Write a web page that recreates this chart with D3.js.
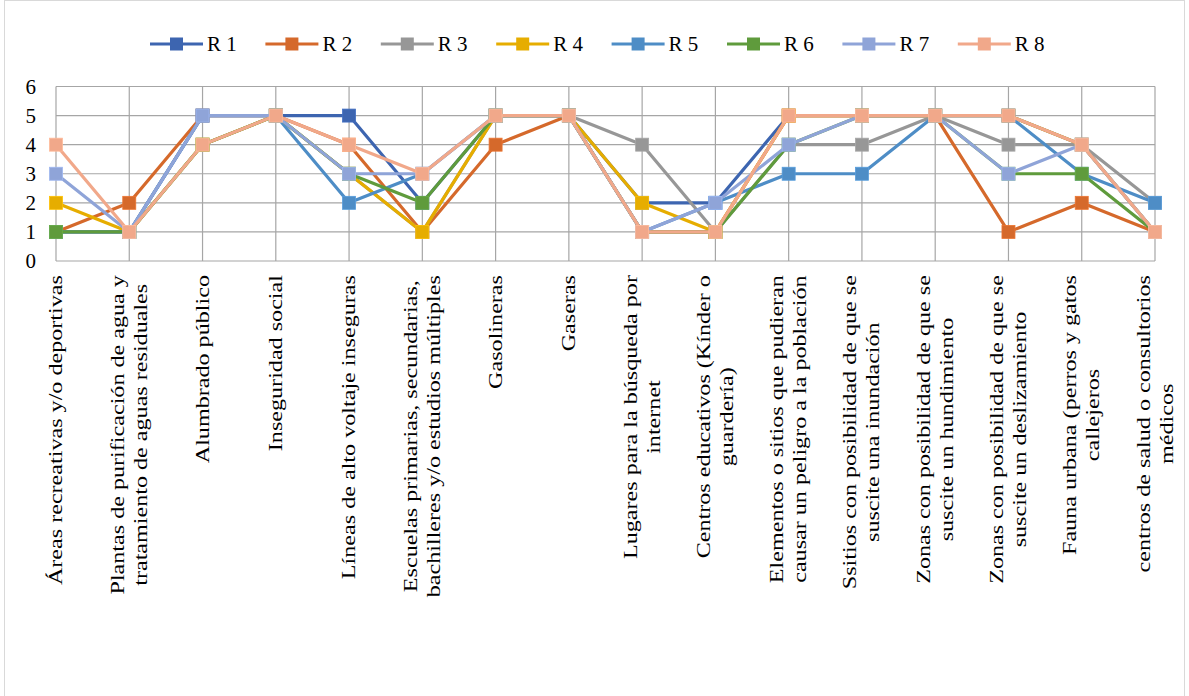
<!DOCTYPE html>
<html>
<head>
<meta charset="utf-8">
<script src="https://cdn.jsdelivr.net/npm/d3@7"></script>
<style>
  body { margin: 0; background: #fff; }
</style>
</head>
<body>
<div id="viz"></div>
<script>
// categories (line breaks as in the original labels)
const categories = [
  "Áreas recreativas y/o deportivas",
  "Plantas de purificación de agua y\ntratamiento de aguas residuales",
  "Alumbrado público",
  "Inseguridad social",
  "Líneas de alto voltaje inseguras",
  "Escuelas primarias, secundarias,\nbachilleres y/o estudios múltiples",
  "Gasolineras",
  "Gaseras",
  "Lugares para la búsqueda por\ninternet",
  "Centros educativos (Kínder o\nguardería)",
  "Elementos o sitios que pudieran\ncausar un peligro a la población",
  "Ssitios con posibilidad de que se\nsuscite una inundación",
  "Zonas con posibilidad de que se\nsuscite un hundimiento",
  "Zonas con posibilidad de que se\nsuscite un deslizamiento",
  "Fauna urbana (perros y gatos\ncallejeros",
  "centros de salud o consultorios\nmédicos"
];

const seriesNames = ["R 1", "R 2", "R 3", "R 4", "R 5", "R 6", "R 7", "R 8"];
const seriesColors = ["#3D65B0", "#D5692B", "#979797", "#E6AD00", "#4E8DC6", "#5F9B3C", "#8FA4D8", "#F1A88A"];

const r1 = [1, 1, 5, 5, 5, 2, 5, 5, 2, 2, 5, 5, 5, 5, 4, 1];
const r2 = [1, 2, 5, 5, 4, 1, 4, 5, 1, 1, 5, 5, 5, 1, 2, 1];
const r3 = [1, 1, 4, 5, 3, 1, 5, 5, 4, 1, 4, 4, 5, 4, 4, 2];
const r4 = [2, 1, 4, 5, 3, 1, 5, 5, 2, 1, 5, 5, 5, 5, 4, 1];
const r5 = [1, 1, 5, 5, 2, 3, 5, 5, 1, 2, 3, 3, 5, 5, 3, 2];
const r6 = [1, 1, 4, 5, 3, 2, 5, 5, 1, 1, 4, 5, 5, 3, 3, 1];
const r7 = [3, 1, 5, 5, 3, 3, 5, 5, 1, 2, 4, 5, 5, 3, 4, 1];
const r8 = [4, 1, 4, 5, 4, 3, 5, 5, 1, 1, 5, 5, 5, 5, 4, 1];

const yTicks = [0, 1, 2, 3, 4, 5, 6];

const allSeries = [r1, r2, r3, r4, r5, r6, r7, r8].map((vals, i) => ({
  name: seriesNames[i], color: seriesColors[i], values: vals
}));

const FONT = "'Liberation Serif'";
const width = 1189, height = 696;
const margin = {top: 86.5, right: 34, bottom: 435, left: 56};

const svg = d3.select('#viz').append('svg')
  .attr('width', width).attr('height', height)
  .attr('viewBox', `0 0 ${width} ${height}`);

// chart frame
svg.append('rect')
  .attr('x', 4.5).attr('y', 0.5).attr('width', 1180).attr('height', 700)
  .attr('fill', '#fff').attr('stroke', '#D9D9D9').attr('stroke-width', 1);

const x = d3.scalePoint().domain(d3.range(categories.length))
  .range([margin.left, width - margin.right]);
const y = d3.scaleLinear().domain([0, 6])
  .range([height - margin.bottom, margin.top]);

// grid
const grid = svg.append('g').attr('stroke', '#A6A6A6').attr('stroke-width', 1.2);
grid.selectAll('line.h').data(yTicks).join('line').attr('class', 'h')
  .attr('x1', margin.left).attr('x2', width - margin.right)
  .attr('y1', d => y(d)).attr('y2', d => y(d));
grid.selectAll('line.v').data(d3.range(categories.length)).join('line').attr('class', 'v')
  .attr('x1', d => x(d)).attr('x2', d => x(d))
  .attr('y1', y(0)).attr('y2', y(6));

// y axis labels
svg.append('g').selectAll('text').data(yTicks).join('text')
  .attr('x', 36).attr('y', d => y(d)).attr('dy', '0.35em')
  .attr('text-anchor', 'end').attr('font-size', 21)
  .style('font-family', FONT)
  .text(d => d);

// x axis labels, rotated, lines centered, block top aligned under axis
// (the original labels are stretched along the text direction)
const labelTop = y(0) + 14;
const lineGap = 23;
const stretch = 1.27;
const xl = svg.append('g');
categories.forEach((c, i) => {
  const lines = c.split('\n');
  const g = xl.append('g');
  const texts = lines.map(ln => g.append('text')
    .attr('font-size', 19)
    .style('font-family', FONT)
    .attr('text-anchor', 'middle')
    .text(ln));
  const maxLen = d3.max(texts, t => t.node().getComputedTextLength()) * stretch;
  const cy = labelTop + maxLen / 2;
  const n = lines.length;
  texts.forEach((t, j) => {
    const off = (j - (n - 1) / 2) * lineGap;
    const cx = x(i) + off + 6;
    t.attr('transform', `translate(${cx},${cy}) rotate(-90) scale(${stretch},1)`);
  });
});

// lines and markers
const line = d3.line().x((d, i) => x(i)).y(d => y(d));
const ms = 13;
allSeries.forEach(s => {
  const g = svg.append('g');
  g.append('path').datum(s.values).attr('d', line)
    .attr('fill', 'none').attr('stroke', s.color).attr('stroke-width', 3.2)
    .attr('stroke-linejoin', 'round');
  g.selectAll('rect').data(s.values).join('rect')
    .attr('x', (d, i) => x(i) - ms / 2).attr('y', d => y(d) - ms / 2)
    .attr('width', ms).attr('height', ms)
    .attr('fill', s.color)
    .attr('stroke', d3.color(s.color).brighter(0.3)).attr('stroke-width', 0.8);
});

// legend
const legendX = d3.scaleLinear().domain([0, 1]).range([150, 265.4]);
const lg = svg.append('g');
allSeries.forEach((s, i) => {
  const lx = legendX(i), ly = 44;
  lg.append('line').attr('x1', lx).attr('x2', lx + 53).attr('y1', ly).attr('y2', ly)
    .attr('stroke', s.color).attr('stroke-width', 3.2);
  lg.append('rect').attr('x', lx + 26.5 - 6.5).attr('y', ly - 6.5)
    .attr('width', 13).attr('height', 13).attr('fill', s.color);
  lg.append('text').attr('x', lx + 57).attr('y', ly).attr('dy', '0.35em')
    .attr('font-size', 21).style('font-family', FONT).text(s.name);
});
</script>
</body>
</html>
